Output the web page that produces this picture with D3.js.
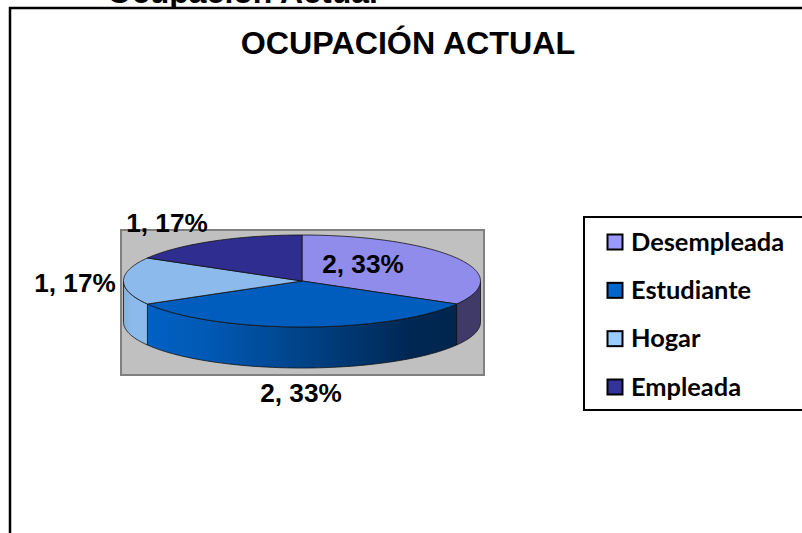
<!DOCTYPE html>
<html><head><meta charset="utf-8">
<script src="https://cdn.jsdelivr.net/npm/d3@7"></script>
<style>html,body{margin:0;padding:0;background:#fff;overflow:hidden}svg{display:block}</style>
</head><body><svg id="c" width="802" height="533"></svg>
<script>
const categories = ["Desempleada","Estudiante","Hogar","Empleada"];
const values = [2,2,1,1];
const percents = ["33%","33%","17%","17%"];
const topColors = ["#8f8cec","#005cbd","#8cbaec","#2f2d8f"];
const legendColors = ["#9999ff","#0066cc","#99ccff","#333399"];
const titleText = "OCUPACIÓN ACTUAL";
const behindTitle = "Ocupación Actual";

const svg = d3.select("#c");
const cx=302, cy=281, rx=178.5, ry=46, depth=41;
const px = a => cx + rx*Math.sin(a);
const py = a => cy - ry*Math.cos(a);
const ellipse = d3.line().x(d=>d[0]).y(d=>d[1]);
const samples = (a,b) => { const n=Math.max(2,Math.ceil(Math.abs(b-a)*60)); return d3.range(n+1).map(i=>a+(b-a)*i/n); };
const pie = d3.pie().sort(null)(values);

const defs = svg.append("defs");
const g1 = defs.append("linearGradient").attr("id","sideBlue");
[[0,"#0061c4"],[0.2,"#0059b4"],[0.55,"#003f80"],[0.85,"#002753"],[1,"#00264f"]]
  .forEach(s=>g1.append("stop").attr("offset",s[0]).attr("stop-color",s[1]));
const g2 = defs.append("linearGradient").attr("id","sideLight");
[[0,"#84b0dc"],[0.35,"#8cbaec"],[1,"#8cbaec"]]
  .forEach(s=>g2.append("stop").attr("offset",s[0]).attr("stop-color",s[1]));

// text of the page behind the chart, cut by the top edge
svg.append("text").text(behindTitle).attr("x",107).attr("y",3)
  .attr("font-family","Liberation Sans").attr("font-weight","bold").attr("font-size",32).attr("fill","#000");
svg.append("rect").attr("x",10).attr("y",8).attr("width",792).attr("height",525).attr("fill","#fff");
// outer chart frame
svg.append("path").attr("d","M10,540V8H810").attr("fill","none").attr("stroke","#000").attr("stroke-width",2.5);

svg.append("text").text(titleText).attr("x",408).attr("y",54).attr("text-anchor","middle")
  .attr("font-family","Liberation Sans").attr("font-weight","bold").attr("font-size",32.2).attr("fill","#000");

// plot area
svg.append("rect").attr("x",121).attr("y",230).attr("width",363).attr("height",145)
  .attr("fill","#c0c0c0").attr("stroke","#808080").attr("stroke-width",2);

// sides (only the front half is visible)
const sideFill = ["#3f3a68","url(#sideBlue)","url(#sideLight)","#2f2d8f"];
pie.forEach((d,i)=>{
  const a=Math.max(d.startAngle,Math.PI/2), b=Math.min(d.endAngle,Math.PI*1.5);
  if(b<=a) return;
  const s=samples(a,b);
  const pts=[...s.map(t=>[px(t),py(t)]),...s.slice().reverse().map(t=>[px(t),py(t)+depth])];
  svg.append("path").attr("d",ellipse(pts)+"Z").attr("fill",sideFill[i]).attr("stroke","#111").attr("stroke-width",0.8);
});
// tops
pie.forEach((d,i)=>{
  const s=samples(d.startAngle,d.endAngle);
  const pts=[[cx,cy],...s.map(t=>[px(t),py(t)])];
  svg.append("path").attr("d",ellipse(pts)+"Z").attr("fill",topColors[i]).attr("stroke","#111").attr("stroke-width",0.8);
});

// data labels
const labelPos=[[363,273],[301,402],[75,292],[167,232]];
pie.forEach((d,i)=>{
  svg.append("text").text(values[i]+", "+percents[i]).attr("x",labelPos[i][0]).attr("y",labelPos[i][1])
   .attr("text-anchor","middle").attr("font-family","Liberation Sans").attr("font-weight","bold")
   .attr("font-size",26.2).attr("fill","#000");
});

// legend
svg.append("rect").attr("x",584).attr("y",217).attr("width",230).attr("height",193)
  .attr("fill","#fff").attr("stroke","#000").attr("stroke-width",2);
const ly=d3.scalePoint().domain(categories).range([242,387]);
categories.forEach((c,i)=>{
  svg.append("rect").attr("x",607.5).attr("y",ly(c)-7.5).attr("width",15).attr("height",15)
    .attr("fill",legendColors[i]).attr("stroke","#000").attr("stroke-width",2);
  svg.append("text").text(c).attr("x",631).attr("y",ly(c)+8.5)
    .attr("font-family","Lato").attr("font-weight","bold").attr("font-size",25.4).attr("fill","#000");
});
</script></body></html>
